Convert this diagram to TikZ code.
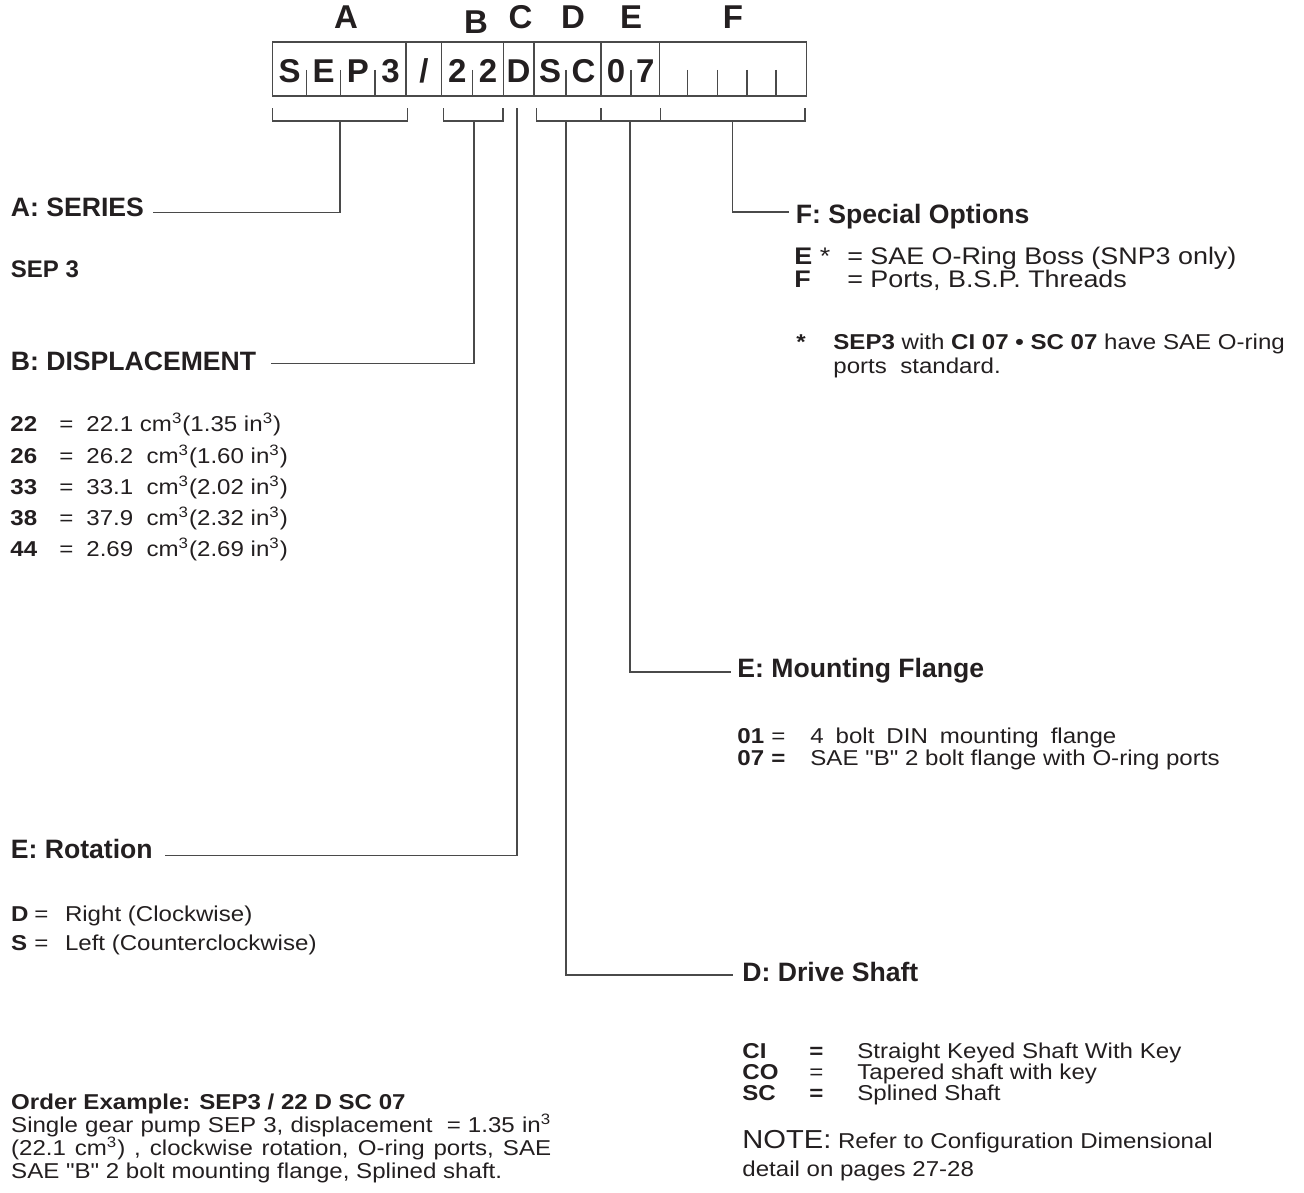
\documentclass[tikz,border=0pt]{standalone}
\usepackage{fontspec}
\setmainfont{Liberation Sans}[Ligatures=TeXOff]
\newfontfamily\widesf{Liberation Sans}[Ligatures=TeXOff,FakeStretch=1.12]
\usetikzlibrary{calc}
\definecolor{ink}{HTML}{231F20}
\definecolor{rule}{HTML}{4A4A4A}
\tikzset{
  lead/.style={draw=rule,line width=0.65pt},
  tag/.style={font=\bfseries\fontsize{16.5}{19}\selectfont,text=ink,inner sep=0pt,anchor=base},
  head/.style={font=\bfseries\fontsize{13.3}{16}\selectfont,text=ink,inner sep=0pt,anchor=base west},
  body/.style={font=\widesf\fontsize{10.75}{13}\selectfont,text=ink,inner sep=0pt,anchor=base west},
  key/.style={body,font=\widesf\bfseries\fontsize{10.75}{13}\selectfont},
  wide/.style={body,font=\widesf\fontsize{12}{14}\selectfont},
}

\begin{document}
\begin{tikzpicture}[x=0.5pt,y=-0.5pt]
  \useasboundingbox (0,0) rectangle (1304,1192);
  % code box
  \draw[lead] (272.7,42) rectangle (806.7,96);
  \foreach \x in {406,441.7,503.3,534,601,659.5}
    \draw[lead] (\x,42) -- (\x,96);
  \foreach \x in {306.7,340.7,375,472.7,566,631,687.7,717.7,747,776}
    \draw[lead] (\x,70) -- (\x,96);
  \foreach \c/\a/\b [count=\i] in {S/272.7/306.7,E/306.7/340.7,P/340.7/375,3/375/406,
      \slash/406/441.7,2/441.7/472.7,2/472.7/503.3,D/503.3/534,S/534/566,C/566/601,
      0/601/631,7/631/659.5}
    \node[tag] (cell\i) at ({(\a+\b)/2},83) {\c};
  \node[tag] (lblA) at (346,29) {A};
  \node[tag] (lblB) at (476,34) {B};
  \node[tag] (lblC) at (520.6,29) {C};
  \node[tag] (lblD) at (573,29) {D};
  \node[tag] (lblE) at (631,29) {E};
  \node[tag] (lblF) at (733,29) {F};
  % brackets
  \draw[lead] (272.7,108.5) |- (407.7,121) -- (407.7,108.5);
  \draw[lead] (443.7,108.5) |- (503,121) -- (503,108.5);
  \draw[lead] (536.7,108.5) |- (805,121) -- (805,108.5);
  \foreach \x in {601,660.3}
    \draw[lead] (\x,108.5) -- (\x,121);
  \coordinate (stemA) at (340,121);
  \coordinate (stemB) at (474,121);
  \coordinate (stemC) at (517,108.5);
  \coordinate (stemD) at (566,121);
  \coordinate (stemE) at (630,121);
  \coordinate (stemF) at (732.3,121);

  % A
  \node[head] (headA) at (10.5,216.7) {A: SERIES};
  \draw[lead] (stemA) |- ($(headA.base east)+(9,-4.5)$);
  \node[key,font=\bfseries\fontsize{12}{14}\selectfont] (series) at (10.5,278) {SEP 3};
  % B
  \node[head] (headB) at (10.5,370) {B: DISPLACEMENT};
  \draw[lead] (stemB) |- ($(headB.base east)+(14,-6.5)$);
  \foreach \k/\v/\y in {22/{22.1 cm\textsuperscript{3}(1.35 in\textsuperscript{3})}/431.7,
      26/{26.2~ cm\textsuperscript{3}(1.60 in\textsuperscript{3})}/463,
      33/{33.1~ cm\textsuperscript{3}(2.02 in\textsuperscript{3})}/494,
      38/{37.9~ cm\textsuperscript{3}(2.32 in\textsuperscript{3})}/525,
      44/{2.69~ cm\textsuperscript{3}(2.69 in\textsuperscript{3})}/556}{
    \node[key] (disp\k) at (10,\y) {\k};
    \node[body] (disp\k eq) at (59,\y) {=};
    \node[body] (disp\k tx) at (86,\y) {\v};
  }
  % C
  \node[head] (headC) at (10.5,858) {E: Rotation};
  \draw[lead] (stemC) |- ($(headC.base east)+(12,-2.5)$);
  \node[key] (rotD) at (10.8,921) {D};
  \node[body] (rotDeq) at (34,921) {=};
  \node[body] (rotDtx) at (64.6,921) {Right (Clockwise)};
  \node[key] (rotS) at (10.8,950) {S};
  \node[body] (rotSeq) at (34,950) {=};
  \node[body] (rotStx) at (64.6,950) {Left (Counterclockwise)};
  % order example
  \node[key] (ord1) at (10.8,1109) {Order Example: SEP3 / 22 D SC 07};
  \node[body] (ord2) at (10.8,1132)
    {\makebox[270pt][s]{Single gear pump SEP 3, displacement~ = 1.35 in\textsuperscript{3}}};
  \node[body] (ord3) at (10.8,1155)
    {\makebox[270pt][s]{(22.1 cm\textsuperscript{3}) , clockwise rotation, O-ring ports, SAE}};
  \node[body] (ord4) at (10.8,1178) {SAE "B" 2 bolt mounting flange, Splined shaft.};

  % F
  \node[head] (headF) at (795.5,224) {F: Special Options};
  \draw[lead] (stemF) |- ($(headF.base west)+(-7,-12)$);
  \node[wide] (optE) at (794,265) {\textbf{E} *};
  \node[wide] (optEeq) at (847,265) {=};
  \node[wide] (optEtx) at (870,265) {SAE O-Ring Boss (SNP3 only)};
  \node[wide] (optF) at (794,288) {\textbf{F}};
  \node[wide] (optFeq) at (847,288) {=};
  \node[wide] (optFtx) at (870,288) {Ports, B.S.P. Threads};
  \node[key] (star) at (796,350) {*};
  \node[body] (rem1) at (833,350)
    {\textbf{SEP3} with \textbf{CI 07 • SC 07} have SAE O-ring};
  \node[body] (rem2) at (833,373) {ports~ standard.};
  % E
  \node[head] (headE) at (737,677) {E: Mounting Flange};
  \draw[lead] (stemE) |- ($(headE.base west)+(-6.5,-5)$);
  \node[key] (mnt01) at (737,743) {01};
  \node[body] (mnt01eq) at (771,743) {=};
  \node[body] (mnt01tx) at (810,743) {\makebox[153pt][s]{4 bolt DIN mounting flange}};
  \node[key] (mnt07) at (737,765) {07};
  \node[key] (mnt07eq) at (771,765) {=};
  \node[body] (mnt07tx) at (810,765) {SAE "B" 2 bolt flange with O-ring ports};
  % D
  \node[head] (headD) at (742,981) {D: Drive Shaft};
  \draw[lead] (stemD) |- ($(headD.base west)+(-9.5,-6)$);
  \node[key] (shCI) at (742,1058) {CI};
  \node[key] (shCIeq) at (809,1058) {=};
  \node[body] (shCItx) at (857,1058) {Straight Keyed Shaft With Key};
  \node[key] (shCO) at (742,1079) {CO};
  \node[body] (shCOeq) at (809,1079) {=};
  \node[body] (shCOtx) at (857,1079) {Tapered shaft with key};
  \node[key] (shSC) at (742,1100) {SC};
  \node[key] (shSCeq) at (809,1100) {=};
  \node[body] (shSCtx) at (857,1100) {Splined Shaft};
  \node[body] (note1) at (742,1148) {{\fontsize{13}{15}\selectfont NOTE:} Refer to Configuration Dimensional};
  \node[body] (note2) at (742,1176) {detail on pages 27-28};
\end{tikzpicture}
\end{document}
